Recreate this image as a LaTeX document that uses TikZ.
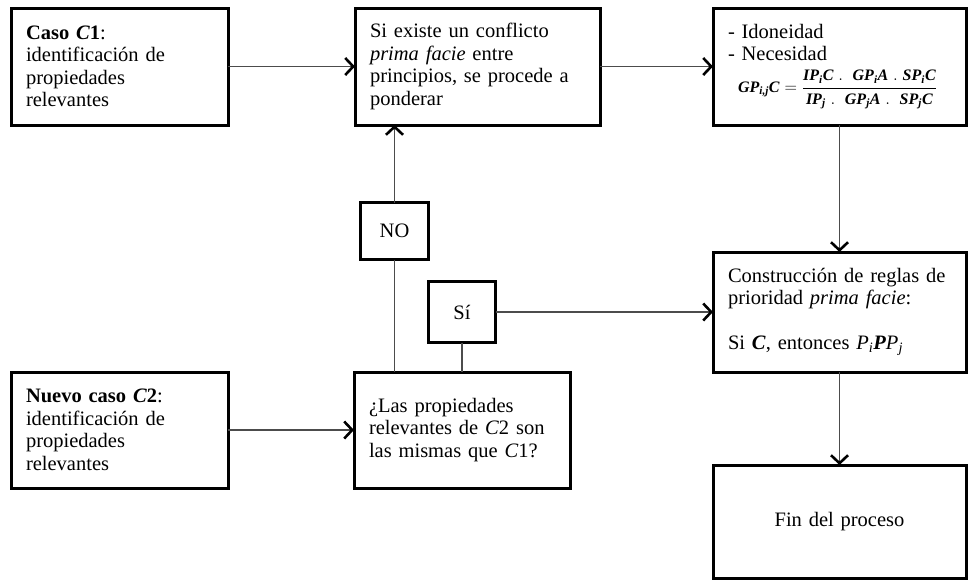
\documentclass[tikz,border=0pt]{standalone}
\usepackage{amsmath}
\usepackage{fontspec}
\setmainfont{Liberation Serif}
\usetikzlibrary{
        arrows.meta,
        positioning
    }
\tikzset{>={Straight Barb[length=8pt,width=17pt,line width=2.6pt,color=black]},node distance=2cm}
\tikzset{box/.style={draw,line width=3pt,outer sep=0pt,align=left,inner xsep=15pt,inner ysep=0pt,
        font=\fontsize{20.5}{22.5}\selectfont}}
\newcommand{\bi}[1]{\textbf{\textit{#1}}}

\begin{document}
\begin{tikzpicture}[x=1pt,y=-1pt]
                \useasboundingbox (0,0) rectangle (968,582);
                \node[box,text width=187pt,minimum height=117pt] (c1) at (119.5,66.5)
                    {\textbf{Caso \bi{C}1}:\\identificación de\\propiedades\\relevantes};
                \node[box,text width=215pt,minimum height=117pt] (conf) [right=127pt of c1]
                    {Si existe un conflicto\\\textit{prima facie} entre\\principios, se procede a\\ponderar};
                \node[box,text width=223pt,minimum height=117pt] (gp) [right=113pt of conf]
                    {- Idoneidad\\- Necesidad\\[9pt]
                     \hspace*{10pt}{\fontsize{16}{18}\selectfont$\bi{GP}_{\bi{i,j}}\bi{C}=\dfrac{\bi{IP}_{\bi{i}}\bi{C}\;.\;\;\bi{GP}_{\bi{i}}\bi{A}\;.\;\bi{SP}_{\bi{i}}\bi{C}}{\bi{IP}_{\bi{j}}\;.\;\;\bi{GP}_{\bi{j}}\bi{A}\;.\;\;\bi{SP}_{\bi{j}}\bi{C}}$}};
                \node[box,text width=223pt,minimum height=120pt] (constr) [below=127pt of gp]
                    {Construcción de reglas de\\prioridad \textit{prima facie}:\\[22.5pt]
                     Si \bi{C}, entonces $\textit{P}_{\textit{i}}\bi{P}\textit{P}_{\textit{j}}$};
                \node[box,text width=223pt,minimum height=113pt,align=center] (fin) [below=93pt of constr]
                    {Fin del proceso};
                \node[box,text width=187pt,minimum height=116pt] (nuevo) [below=247pt of c1]
                    {\textbf{Nuevo caso \bi{C}2}:\\identificación de\\propiedades\\relevantes};
                \node[box,text width=186pt,minimum height=116pt] (las) [right=126pt of nuevo]
                    {¿Las propiedades\\relevantes de \textit{C}2 son\\las mismas que \textit{C}1?};
                \node[box,text width=37pt,minimum height=61pt,align=center] (si) [above=29.5pt of las] {Sí};
                \node[box,text width=38pt,minimum height=57pt,align=center] (no) [above left=22pt and 0pt of si] {NO};
                \path[->,draw=black!70,line width=1.2pt]
                    (c1)  edge  (conf)
                    (conf)  edge  (gp)
                    (gp)  edge  (constr)
                    (constr)  edge  (fin)
                    (nuevo)  edge  (las)
                    (si)  edge  (si -| constr.west)
                    (no)  edge  (no |- conf.south)
                    (no)  edge[-]  (no |- las.north)
                    (si)  edge[-]  (las)
                    ;
            \end{tikzpicture}
\end{document}
